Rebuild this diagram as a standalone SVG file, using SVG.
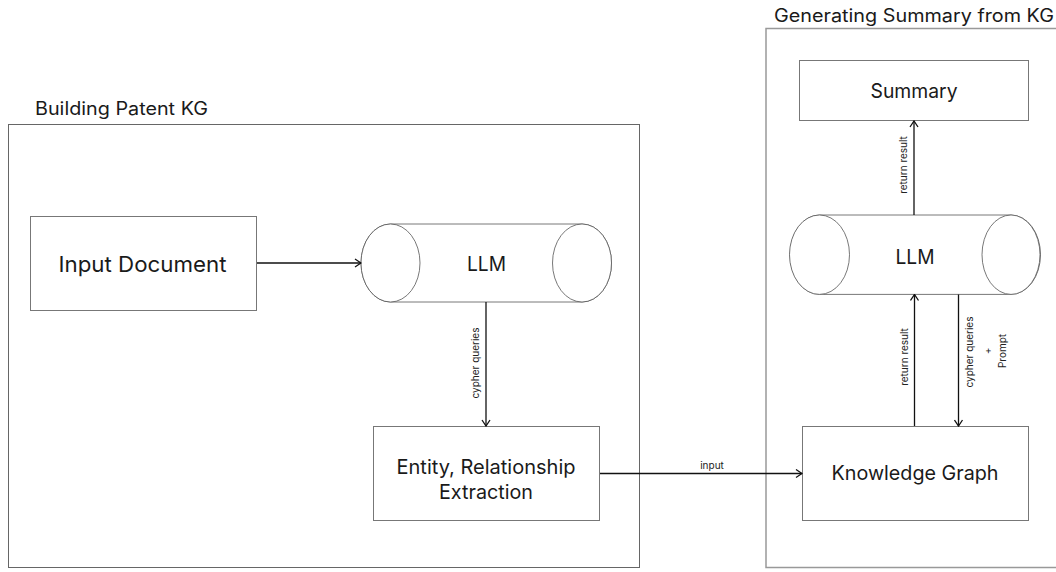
<svg xmlns="http://www.w3.org/2000/svg" width="1056" height="572" viewBox="0 0 1056 572">
<style>
text{font-family:Inter,"Liberation Sans",sans-serif;fill:#1a1a1a}
.frame{fill:none;stroke:#666;stroke-width:1}
.frame2{fill:none;stroke:#999;stroke-width:1.5}
.box{fill:#fff;stroke:#777;stroke-width:1}
.cyl{fill:#fff;stroke:#555;stroke-width:0.8}
.edge{fill:none;stroke:#111;stroke-width:1.3}
.title{font-size:18px}
.big{font-size:22px;text-anchor:middle}
.mid{font-size:20px;text-anchor:middle}
.small{font-size:10px;text-anchor:middle;fill:#222}
</style>
<defs>
<marker id="arr" viewBox="0 0 10 10" refX="9" refY="5" markerWidth="10" markerHeight="10" markerUnits="userSpaceOnUse" orient="auto">
<path d="M3,1 L9,5 L3,9" fill="none" stroke="#111" stroke-width="1.3"/>
</marker>
</defs>
<rect width="1056" height="572" fill="#fff"/>
<g id="frame-building">
<rect class="frame" x="8.5" y="124.5" width="631" height="443"/>
<text class="title" x="35" y="115" textLength="173" lengthAdjust="spacingAndGlyphs">Building Patent KG</text>
</g>
<g id="frame-generating">
<rect class="frame2" x="766" y="28.5" width="300" height="539"/>
<text class="title" x="774" y="22" textLength="280" lengthAdjust="spacingAndGlyphs">Generating Summary from KG</text>
</g>
<g id="input-document">
<rect class="box" x="30.5" y="216.5" width="226" height="94"/>
<text class="big" x="142.5" y="272" textLength="168" lengthAdjust="spacingAndGlyphs">Input Document</text>
</g>
<g id="llm-left">
<path class="cyl" d="M390.5,224 L582,224 A29.5,39 0 0 1 582,302 L390.5,302 A29.5,39 0 0 1 390.5,224 Z"/>
<ellipse class="cyl" cx="390.5" cy="263" rx="29.5" ry="39"/>
<ellipse class="cyl" cx="582" cy="263" rx="29.5" ry="39"/>
<text class="mid" x="486.5" y="270.5" textLength="39" lengthAdjust="spacingAndGlyphs">LLM</text>
</g>
<g id="entity-extraction">
<rect class="box" x="373.5" y="426.5" width="226" height="94"/>
<text class="mid" x="486" y="474" textLength="179" lengthAdjust="spacingAndGlyphs">Entity, Relationship</text>
<text class="mid" x="486" y="499" textLength="94" lengthAdjust="spacingAndGlyphs">Extraction</text>
</g>
<g id="summary">
<rect class="box" x="799.5" y="60.5" width="229" height="60"/>
<text class="mid" x="914" y="98" textLength="87" lengthAdjust="spacingAndGlyphs">Summary</text>
</g>
<g id="llm-right">
<path class="cyl" d="M819.5,215 L1011,215 A29.5,39.7 0 0 1 1011,294.4 L819.5,294.4 A29.5,39.7 0 0 1 819.5,215 Z"/>
<ellipse class="cyl" cx="819.5" cy="254.7" rx="30" ry="39.7"/>
<ellipse class="cyl" cx="1011" cy="254.7" rx="29" ry="39.7"/>
<text class="mid" x="915" y="263.5" textLength="39" lengthAdjust="spacingAndGlyphs">LLM</text>
</g>
<g id="knowledge-graph">
<rect class="box" x="802.5" y="426.5" width="226" height="94"/>
<text class="mid" x="915" y="480" textLength="167" lengthAdjust="spacingAndGlyphs">Knowledge Graph</text>
</g>
<g id="connectors">
<line class="edge" x1="257" y1="263" x2="361" y2="263" marker-end="url(#arr)"/>
<line class="edge" x1="486" y1="302" x2="486" y2="426" marker-end="url(#arr)"/>
<text class="small" transform="translate(479,363) rotate(-90)">cypher queries</text>
<line class="edge" x1="600" y1="473.5" x2="802" y2="473.5" marker-end="url(#arr)"/>
<text class="small" x="712" y="469">input</text>
<line class="edge" x1="914" y1="215" x2="914" y2="121" marker-end="url(#arr)"/>
<text class="small" transform="translate(907,165) rotate(-90)">return result</text>
<line class="edge" x1="914.5" y1="426" x2="914.5" y2="294.5" marker-end="url(#arr)"/>
<text class="small" transform="translate(908,357) rotate(-90)">return result</text>
<line class="edge" x1="958.5" y1="294.5" x2="958.5" y2="426" marker-end="url(#arr)"/>
<text class="small" transform="translate(973,352) rotate(-90)">cypher queries</text>
<text class="small" transform="translate(991,351) rotate(-90)">+</text>
<text class="small" transform="translate(1006,351) rotate(-90)">Prompt</text>
</g>
</svg>
